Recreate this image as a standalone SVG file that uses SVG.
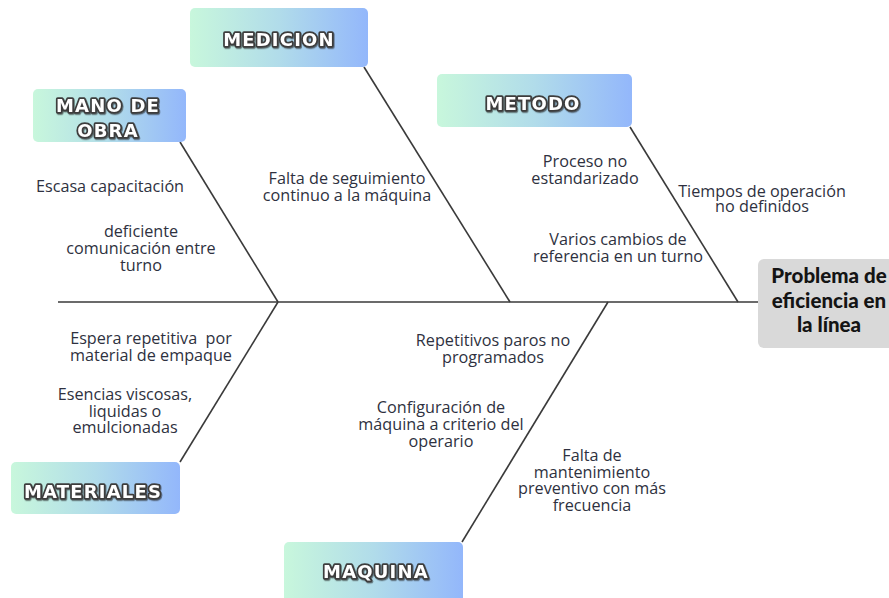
<svg xmlns="http://www.w3.org/2000/svg" width="889" height="598" viewBox="0 0 889 598">
<defs>
<linearGradient id="g" x1="0" y1="0" x2="1" y2="0">
<stop offset="0" stop-color="#c8f7dc"/>
<stop offset="0.5" stop-color="#b1dcea"/>
<stop offset="1" stop-color="#93b7fb"/>
</linearGradient>
<filter id="sh" x="-10%" y="-30%" width="120%" height="160%">
<feDropShadow dx="0.8" dy="1.2" stdDeviation="0.4" flood-color="#222" flood-opacity="0.6"/>
</filter>
<style>
.cat rect{fill:url(#g);}
.cat text{font-family:"DejaVu Sans",sans-serif;font-weight:bold;font-size:18px;letter-spacing:1.2px;fill:#ffffff;stroke:#3c3c3c;stroke-width:3.5px;paint-order:stroke;stroke-linejoin:round;text-anchor:middle;dominant-baseline:central;filter:url(#sh);}
.lbl{font-family:"Open Sans",sans-serif;font-size:16.2px;fill:#2e3140;text-anchor:middle;dominant-baseline:central;}
.bone{stroke:#3a3a3a;stroke-width:1.6;fill:none;}
.head text{font-family:"Lato",sans-serif;font-weight:900;font-size:20.5px;fill:#141414;text-anchor:middle;dominant-baseline:central;}
</style>
</defs>
<rect width="889" height="598" fill="#ffffff"/>
<g id="connectors">
<line class="bone" x1="58" y1="302" x2="758" y2="302"/>
<line class="bone" x1="180" y1="142" x2="278" y2="302"/>
<line class="bone" x1="278" y1="302" x2="180" y2="462"/>
<line class="bone" x1="364" y1="67" x2="510" y2="302"/>
<line class="bone" x1="630" y1="127" x2="738" y2="302"/>
<line class="bone" x1="608" y1="302" x2="462" y2="542"/>
</g>
<g id="problema" class="head">
<rect x="758" y="259" width="140" height="89" rx="6" fill="#d9d9d9"/>
<text x="829" y="275">Problema de</text>
<text x="829" y="300">eficiencia en</text>
<text x="829" y="324">la línea</text>
</g>
<g id="mano-de-obra" class="cat">
<rect x="33" y="89" width="153" height="53" rx="5"/>
<text x="108" y="105">MANO DE</text>
<text x="108" y="130">OBRA</text>
</g>
<g id="medicion" class="cat">
<rect x="190" y="8" width="178" height="59" rx="5"/>
<text x="279" y="39">MEDICION</text>
</g>
<g id="metodo" class="cat">
<rect x="437" y="74" width="195" height="53" rx="5"/>
<text x="533" y="103">METODO</text>
</g>
<g id="materiales" class="cat">
<rect x="11" y="462" width="169" height="52" rx="5"/>
<text x="93" y="491">MATERIALES</text>
</g>
<g id="maquina" class="cat">
<rect x="284" y="542" width="179" height="62" rx="5"/>
<text x="376" y="571">MAQUINA</text>
</g>
<g id="causas">
<text class="lbl" x="110" y="186">Escasa capacitación</text>
<text class="lbl" x="141" y="231">deficiente</text>
<text class="lbl" x="141" y="248">comunicación entre</text>
<text class="lbl" x="141" y="265">turno</text>
<text class="lbl" x="347" y="178">Falta de seguimiento</text>
<text class="lbl" x="347" y="195">continuo a la máquina</text>
<text class="lbl" x="585" y="161">Proceso no</text>
<text class="lbl" x="585" y="178">estandarizado</text>
<text class="lbl" x="762" y="191">Tiempos de operación</text>
<text class="lbl" x="762" y="206">no definidos</text>
<text class="lbl" x="618" y="239">Varios cambios de</text>
<text class="lbl" x="618" y="256">referencia en un turno</text>
<text class="lbl" x="151" y="338" xml:space="preserve">Espera repetitiva  por</text>
<text class="lbl" x="151" y="355">material de empaque</text>
<text class="lbl" x="125" y="394">Esencias viscosas,</text>
<text class="lbl" x="125" y="411">liquidas o</text>
<text class="lbl" x="125" y="427">emulcionadas</text>
<text class="lbl" x="493" y="340">Repetitivos paros no</text>
<text class="lbl" x="493" y="357">programados</text>
<text class="lbl" x="441" y="407">Configuración de</text>
<text class="lbl" x="441" y="424">máquina a criterio del</text>
<text class="lbl" x="441" y="441">operario</text>
<text class="lbl" x="592" y="455">Falta de</text>
<text class="lbl" x="592" y="472">mantenimiento</text>
<text class="lbl" x="592" y="488">preventivo con más</text>
<text class="lbl" x="592" y="505">frecuencia</text>
</g>
</svg>
